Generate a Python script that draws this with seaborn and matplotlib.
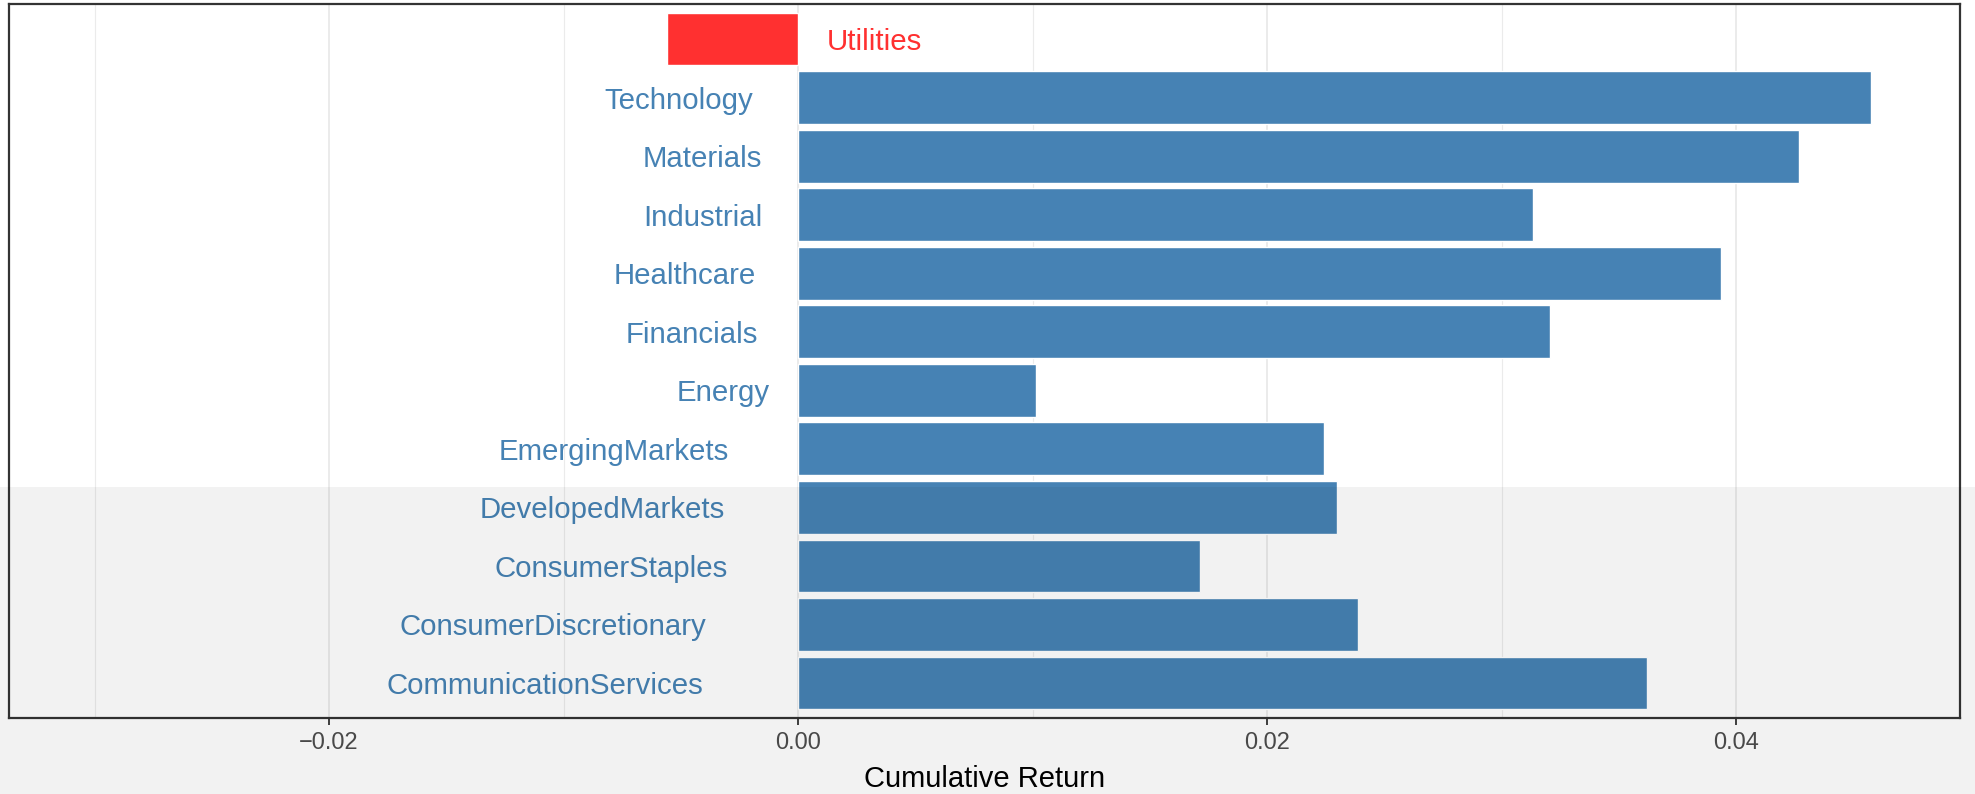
import numpy as np
import pandas as pd
import matplotlib
matplotlib.use("Agg")
import matplotlib.pyplot as plt
import seaborn as sns
from matplotlib.patches import Rectangle
from matplotlib.transforms import Affine2D
from matplotlib.ticker import FixedLocator

# ---- data ----
sectors = ["Utilities", "Technology", "Materials", "Industrial", "Healthcare",
           "Financials", "Energy", "EmergingMarkets", "DevelopedMarkets",
           "ConsumerStaples", "ConsumerDiscretionary", "CommunicationServices"]
returns = [-0.00559, 0.04576, 0.04269, 0.03134, 0.03936, 0.03207, 0.01015,
           0.02243, 0.02299, 0.01714, 0.02388, 0.03620]
x_ticks = [-0.02, 0.00, 0.02, 0.04]
x_tick_labels = ["\u22120.02", "0.00", "0.02", "0.04"]
x_minor_ticks = [-0.03, -0.01, 0.01, 0.03]
x_label = "Cumulative Return"

POS_COLOR = "#4682B4"
NEG_COLOR = "#FF3030"

sns.set_theme(style="white")
plt.rcParams["font.family"] = ["Liberation Sans", "DejaVu Sans"]

W, H = 1975, 794
fig = plt.figure(figsize=(W / 100, H / 100), dpi=100)
fig.patch.set_facecolor("white")

ax = fig.add_axes([9 / W, 1 - 718 / H, (1960 - 9) / W, (718 - 4) / H])
ax.set_facecolor("none")

df = pd.DataFrame({"sector": sectors, "ret": returns})
df["sign"] = np.where(df["ret"] < 0, "neg", "pos")

sns.barplot(data=df, x="ret", y="sector", hue="sign", order=sectors,
            palette={"pos": POS_COLOR, "neg": NEG_COLOR}, width=0.9,
            dodge=False, legend=False, saturation=1, ax=ax, zorder=3)

ax.set_xlim(-0.03365, 0.04955)
ax.set_ylim(len(sectors) - 1 + 0.6, -0.6)

ax.set_xticks(x_ticks)
ax.set_xticklabels(x_tick_labels)
ax.xaxis.set_minor_locator(FixedLocator(x_minor_ticks))
ax.set_axisbelow(True)
ax.grid(False)
ax.grid(axis="x", which="major", color="#EBEBEB", linewidth=1.4)
ax.grid(axis="x", which="minor", color="#EBEBEB", linewidth=0.8)
ax.tick_params(axis="x", which="major", bottom=True, length=5, width=1.3,
               color="#333333", labelsize=17, labelcolor="#4D4D4D", pad=5)
ax.tick_params(axis="x", which="minor", bottom=False, length=0)
ax.tick_params(axis="y", left=False, labelleft=False)
ax.set_ylabel("")
ax.set_xlabel(x_label, fontsize=21, color="black", labelpad=8)
for sp in ax.spines.values():
    sp.set_visible(True)
    sp.set_color("#333333")
    sp.set_linewidth(1.6)

fig.canvas.draw()
renderer = fig.canvas.get_renderer()

# category labels placed next to zero (ggplot-like hjust 1.3 / -0.3)
for i, (s, v) in enumerate(zip(sectors, returns)):
    if v >= 0:
        t = ax.text(0, i, s, ha="right", va="center_baseline", fontsize=21.2,
                    color=POS_COLOR, zorder=4)
        sign = -1
    else:
        t = ax.text(0, i, s, ha="left", va="center_baseline", fontsize=21.2,
                    color=NEG_COLOR, zorder=4)
        sign = 1
    w = t.get_window_extent(renderer=renderer).width
    t.set_transform(ax.transData + Affine2D().translate(sign * 0.3 * w, 0))

# light grey watermark band over the lower part (multiply-like darkening)
band_top = 487
fig.add_artist(Rectangle((0, 0), 1, (H - band_top) / H, transform=fig.transFigure,
                         facecolor="black", edgecolor="none", alpha=0.051, zorder=10))

fig.savefig("out.png", dpi=100, facecolor="white")
